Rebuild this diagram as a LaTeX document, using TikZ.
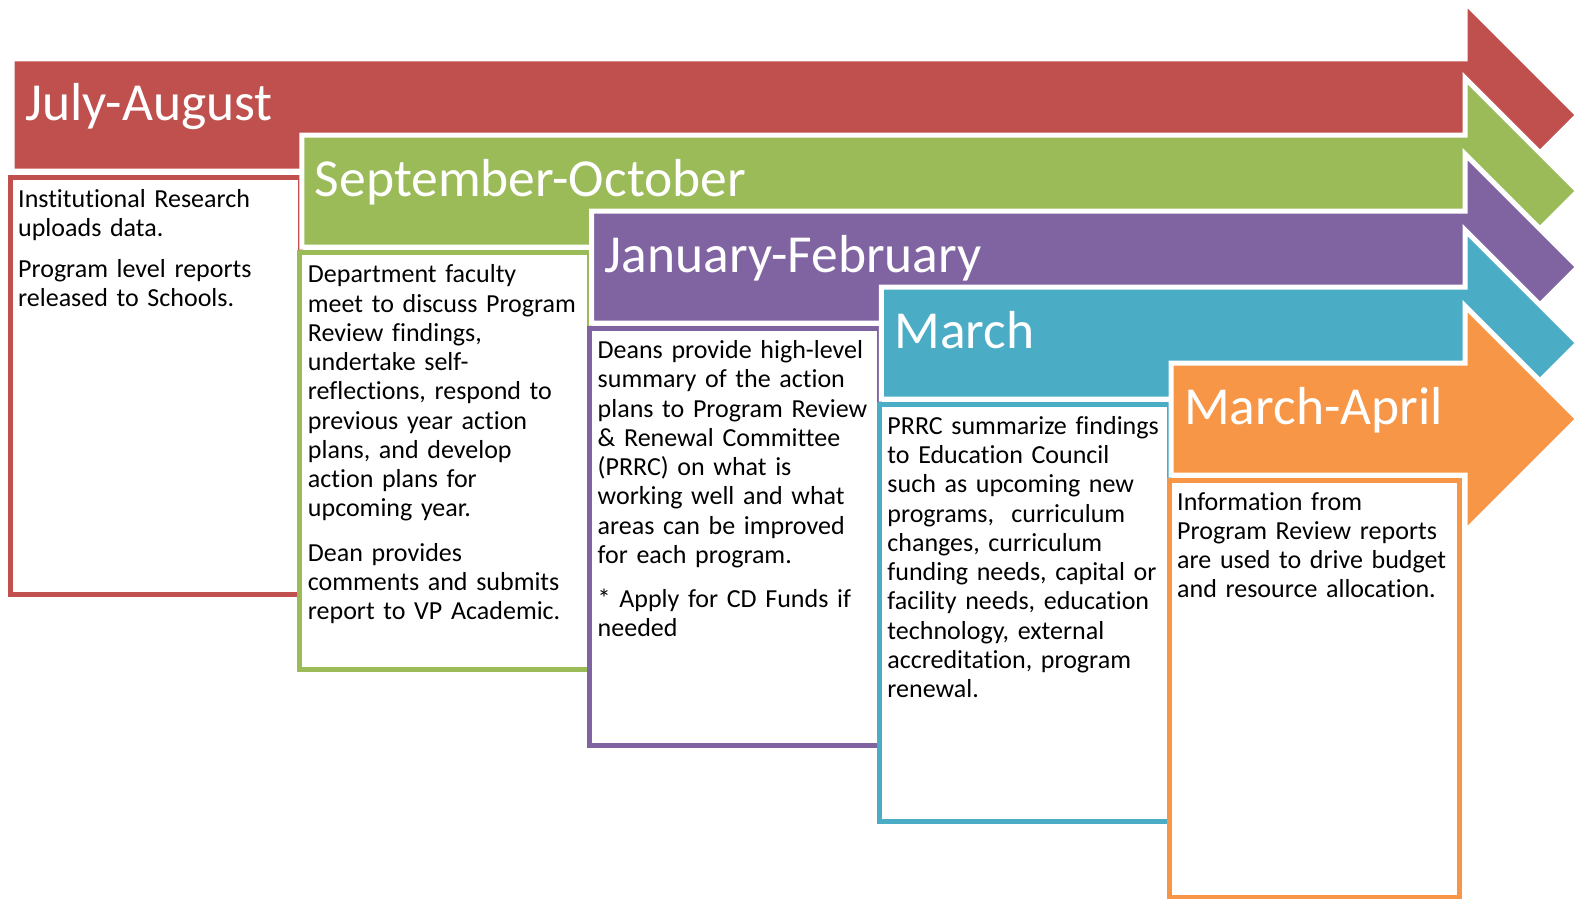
\documentclass[tikz,border=0pt]{standalone}
\usepackage{fontspec}
\setmainfont[Ligatures=NoCommon]{Carlito}
\definecolor{colJulAug}{HTML}{C0504D}
\definecolor{colSepOct}{HTML}{9BBB59}
\definecolor{colJanFeb}{HTML}{8064A2}
\definecolor{colMar}{HTML}{4BACC6}
\definecolor{colMarApr}{HTML}{F79646}
\begin{document}
\begin{tikzpicture}[x=1pt, y=-1pt,
    arrowshape/.style={draw=white, line width=5pt, line join=miter},
    framebox/.style={draw=#1, line width=5pt, fill=white, minimum width=290pt,
      minimum height=417pt, inner sep=0pt, outer sep=0pt, anchor=north west},
    monthtitle/.style={text=white, anchor=base west, inner sep=0pt,
      font=\fontsize{53.5}{60}\selectfont},
    bodytext/.style={anchor=base west, inner sep=0pt, text width=300pt,
      align=left, font=\fontsize{26}{29.25}\selectfont}]
  \useasboundingbox (0,0) rectangle (1575,899);
  % arrows and frames, each one laid over the one before
  \foreach \i/\col/\ttl in {0/colJulAug/July-August, 1/colSepOct/September-October,
      2/colJanFeb/January-February, 3/colMar/March, 4/colMarApr/March-April} {
    \pgfmathsetmacro\arx{12+289.75*\i}
    \pgfmathsetmacro\ary{115+76*\i}
    \draw[arrowshape, fill=\col] (\arx,\ary-56) -- (1465,\ary-56) -- (1465,\ary-113)
      -- (1578,\ary) -- (1465,\ary+113) -- (1465,\ary+56) -- (\arx,\ary+56) -- cycle;
    \node[monthtitle] (t\i) at (\arx+13,\ary+5) {\ttl};
    \node[framebox=\col] (b\i) at (10+289.75*\i, 177+75.8*\i) {};
  }
  % texts
  \node[bodytext] (txt0) at ([shift={(8,30)}]b0.north west)
    {Institutional Research\\ uploads data.\\[12pt]
     Program level reports\\ released to Schools.};
  \node[bodytext] (txt1) at ([shift={(8,30)}]b1.north west)
    {Department faculty\\ meet to discuss Program\\ Review findings,\\
     undertake self-\\ reflections, respond to\\ previous year action\\
     plans, and develop\\ action plans for\\ upcoming year.\\[15pt]
     Dean provides\\ comments and submits\\ report to VP Academic.};
  \node[bodytext] (txt2) at ([shift={(8,30)}]b2.north west)
    {Deans provide high-level\\ summary of the action\\ plans to Program Review\\
     \& Renewal Committee\\ (PRRC) on what is\\ working well and what\\
     areas can be improved\\ for each program.\\[15pt]
     * Apply for CD Funds if\\ needed};
  \node[bodytext] (txt3) at ([shift={(8,30)}]b3.north west)
    {PRRC summarize findings\\ to Education Council\\ such as upcoming new\\
     programs,~ curriculum\\ changes, curriculum\\ funding needs, capital or\\
     facility needs, education\\ technology, external\\ accreditation, program\\
     renewal.};
  \node[bodytext] (txt4) at ([shift={(8,30)}]b4.north west)
    {Information from\\ Program Review reports\\ are used to drive budget\\
     and resource allocation.};
\end{tikzpicture}
\end{document}
